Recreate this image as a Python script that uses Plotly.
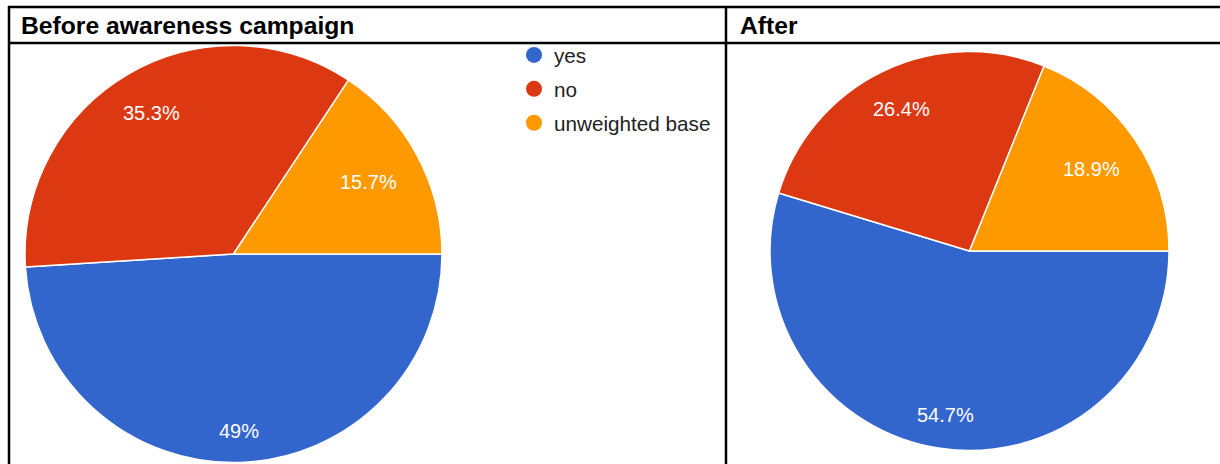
import math
import plotly.graph_objects as go

W, H = 1220, 464

categories = ["yes", "no", "unweighted base"]
before_values = [49, 35.3, 15.7]
after_values = [54.7, 26.4, 18.9]
colors = ["#3366CC", "#DC3912", "#FF9900"]
panel_titles = ["Before awareness campaign", "After"]

# pie geometry in pixels (layout only)
pies = [
    dict(values=before_values, cx=233.5, cy=254.0, r=208.5),
    dict(values=after_values, cx=969.5, cy=251.0, r=199.5),
]

fig = go.Figure()
annotations = []

for p in pies:
    cx, cy, r = p["cx"], p["cy"], p["r"]
    fig.add_trace(go.Pie(
        labels=categories, values=p["values"], sort=False,
        direction="clockwise", rotation=90,
        marker=dict(colors=colors, line=dict(color="white", width=1.5)),
        textinfo="none", hoverinfo="label+percent", showlegend=False,
        domain=dict(x=[(cx - r) / W, (cx + r) / W],
                    y=[(H - (cy + r)) / H, (H - (cy - r)) / H]),
    ))
    total = sum(p["values"])
    start = 90.0
    for v in p["values"]:
        span = v / total * 360
        mid = math.radians(start + span / 2)
        txt = f"{v:g}%"
        tw = len(txt) * 11.0
        d = 0.85 * r - 0.5 * tw * abs(math.sin(mid))
        px = cx + d * math.sin(mid)
        py = cy - d * math.cos(mid)
        annotations.append(dict(
            x=px / W, y=(H - py) / H, xref="paper", yref="paper",
            text=txt, showarrow=False, xanchor="center", yanchor="middle",
            font=dict(family="Liberation Sans, Arial", size=20, color="white"),
        ))
        start += span

# legend entries with circular symbols
for cat, col in zip(categories, colors):
    fig.add_trace(go.Scatter(
        x=[None], y=[None], mode="markers", name=cat, legendgroup=cat,
        marker=dict(symbol="circle", size=16, color=col),
        showlegend=True, hoverinfo="skip",
    ))

title_font = dict(family="Liberation Sans, Arial", size=24.7, color="black")
annotations.append(dict(x=19 / W, y=(H - 25) / H, xref="paper", yref="paper",
                        text=f"<b>{panel_titles[0]}</b>", showarrow=False,
                        xanchor="left", yanchor="middle", font=title_font))
annotations.append(dict(x=738 / W, y=(H - 25) / H, xref="paper", yref="paper",
                        text=f"<b>{panel_titles[1]}</b>", showarrow=False,
                        xanchor="left", yanchor="middle", font=title_font))

line = dict(color="black", width=2.5)
shapes = [
    dict(type="line", xref="paper", yref="paper", x0=8 / W, x1=1, y0=(H - 7) / H, y1=(H - 7) / H, line=line),
    dict(type="line", xref="paper", yref="paper", x0=8 / W, x1=1, y0=(H - 43) / H, y1=(H - 43) / H, line=line),
    dict(type="line", xref="paper", yref="paper", x0=9 / W, x1=9 / W, y0=0, y1=(H - 6) / H, line=line),
    dict(type="line", xref="paper", yref="paper", x0=726 / W, x1=726 / W, y0=0, y1=(H - 6) / H, line=line),
]

fig.update_layout(
    width=W, height=H,
    margin=dict(l=0, r=0, t=0, b=0),
    paper_bgcolor="white", plot_bgcolor="white",
    xaxis=dict(visible=False), yaxis=dict(visible=False),
    showlegend=True,
    legend=dict(x=514 / W, y=(H - 35) / H, xanchor="left", yanchor="top",
                font=dict(family="Liberation Sans, Arial", size=20.7, color="#222222"),
                bgcolor="rgba(0,0,0,0)", tracegroupgap=4, itemsizing="trace"),
    annotations=annotations, shapes=shapes,
)

fig.write_html(
    "out.html",
    config={"displayModeBar": False},
    post_script="document.body.style.margin='0';document.body.style.overflow='hidden';",
)
